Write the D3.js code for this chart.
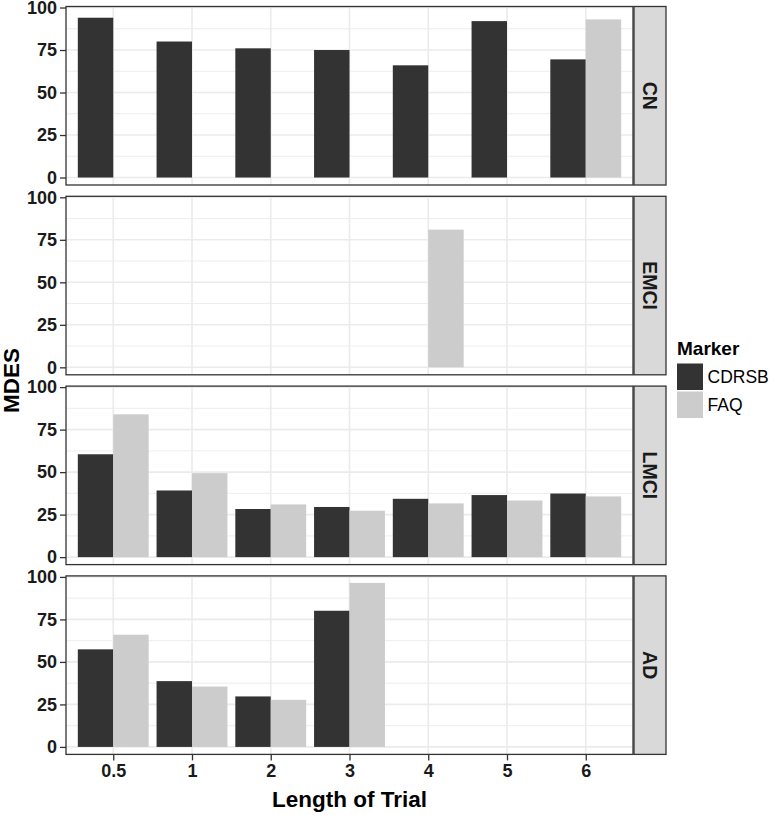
<!DOCTYPE html>
<html>
<head>
<meta charset="utf-8">
<script src="https://cdn.jsdelivr.net/npm/d3@7"></script>
<style>
  html, body { margin: 0; padding: 0; background: #fff; }
  svg { display: block; font-family: "Liberation Sans", Arial, Helvetica, sans-serif; }
</style>
</head>
<body>
<svg id="chart" width="775" height="815"></svg>
<script>
// ---- data ----
const categories = ["0.5", "1", "2", "3", "4", "5", "6"];
const facets = ["CN", "EMCI", "LMCI", "AD"];
const markers = ["CDRSB", "FAQ"];
const yTicks = [0, 25, 50, 75, 100];
const yMinorTicks = [12.5, 37.5, 62.5, 87.5];

const CN_CDRSB   = [94, 80, 76, 75, 66, 92, 69.5];
const CN_FAQ     = [null, null, null, null, null, null, 93];
const EMCI_CDRSB = [null, null, null, null, null, null, null];
const EMCI_FAQ   = [null, null, null, null, 81, null, null];
const LMCI_CDRSB = [60.5, 39.2, 28.3, 29.5, 34.3, 36.5, 37.4];
const LMCI_FAQ   = [84, 49.4, 31, 27.3, 31.6, 33.3, 35.7];
const AD_CDRSB   = [57.4, 38.7, 29.7, 80.1, null, null, null];
const AD_FAQ     = [66, 35.5, 27.7, 96.5, null, null, null];

const seriesByFacet = {
  CN:   { CDRSB: CN_CDRSB,   FAQ: CN_FAQ },
  EMCI: { CDRSB: EMCI_CDRSB, FAQ: EMCI_FAQ },
  LMCI: { CDRSB: LMCI_CDRSB, FAQ: LMCI_FAQ },
  AD:   { CDRSB: AD_CDRSB,   FAQ: AD_FAQ }
};

// ---- layout ----
const svg = d3.select("#chart");
const panelLeft = 66, panelRight = 633;
const panelTop0 = 6.5, panelH = 178.5, panelStep = 189.8;
const stripW = 32;
const colors = d3.scaleOrdinal().domain(markers).range(["#333333", "#cccccc"]);
const borderCol = "#333333";
const gridCol = "#ebebeb";

const x = d3.scalePoint().domain(categories).range([panelLeft, panelRight]).padding(0.6);
const step = x.step();
const xSub = d3.scaleBand().domain(markers).range([-0.45 * step, 0.45 * step]).padding(0);

facets.forEach((facet, i) => {
  const top = panelTop0 + i * panelStep;
  const y = d3.scaleLinear().domain([-4.4, 100.6]).range([top + panelH, top]);
  const g = svg.append("g");

  g.append("rect").attr("x", panelLeft).attr("y", top)
    .attr("width", panelRight - panelLeft).attr("height", panelH).attr("fill", "#fff");

  g.selectAll(".minor").data(yMinorTicks).enter().append("line")
    .attr("x1", panelLeft).attr("x2", panelRight)
    .attr("y1", d => y(d)).attr("y2", d => y(d))
    .attr("stroke", gridCol).attr("stroke-width", 0.9);
  g.selectAll(".majorY").data(yTicks).enter().append("line")
    .attr("x1", panelLeft).attr("x2", panelRight)
    .attr("y1", d => y(d)).attr("y2", d => y(d))
    .attr("stroke", gridCol).attr("stroke-width", 1.6);
  g.selectAll(".majorX").data(categories).enter().append("line")
    .attr("x1", d => x(d)).attr("x2", d => x(d))
    .attr("y1", top).attr("y2", top + panelH)
    .attr("stroke", gridCol).attr("stroke-width", 1.6);

  markers.forEach(m => {
    const vals = seriesByFacet[facet][m];
    const data = categories.map((c, j) => ({ c, v: vals[j] })).filter(d => d.v !== null);
    g.selectAll(".bar-" + m).data(data).enter().append("rect")
      .attr("x", d => x(d.c) + xSub(m))
      .attr("width", xSub.bandwidth())
      .attr("y", d => y(d.v))
      .attr("height", d => y(0) - y(d.v))
      .attr("fill", colors(m));
  });

  g.append("rect").attr("x", panelLeft).attr("y", top)
    .attr("width", panelRight - panelLeft).attr("height", panelH)
    .attr("fill", "none").attr("stroke", borderCol).attr("stroke-width", 1.3);

  const yAxis = d3.axisLeft(y).tickValues(yTicks).tickSize(6).tickPadding(3).tickFormat(d3.format("d"));
  const ya = g.append("g").attr("transform", `translate(${panelLeft},0)`).call(yAxis);
  ya.select(".domain").remove();
  ya.selectAll(".tick line").attr("stroke", borderCol).attr("stroke-width", 1.3);
  ya.selectAll(".tick text").attr("fill", "#1a1a1a").attr("font-size", 18)
    .attr("font-weight", "bold").attr("font-family", "Liberation Sans, Arial, sans-serif");

  g.append("rect").attr("x", panelRight + 1).attr("y", top)
    .attr("width", stripW).attr("height", panelH)
    .attr("fill", "#d9d9d9").attr("stroke", borderCol).attr("stroke-width", 1.3);
  g.append("text")
    .attr("transform", `translate(${panelRight + 1 + stripW / 2},${top + panelH / 2}) rotate(90)`)
    .attr("text-anchor", "middle").attr("dominant-baseline", "central")
    .attr("font-size", 19.5).attr("font-weight", "bold").attr("fill", "#1a1a1a")
    .text(facet);

  if (i === facets.length - 1) {
    const xAxis = d3.axisBottom(x).tickSize(6).tickPadding(4);
    const xa = g.append("g").attr("transform", `translate(0,${top + panelH})`).call(xAxis);
    xa.select(".domain").remove();
    xa.selectAll(".tick line").attr("stroke", borderCol).attr("stroke-width", 1.3);
    xa.selectAll(".tick text").attr("fill", "#1a1a1a").attr("font-size", 18)
      .attr("font-weight", "bold").attr("font-family", "Liberation Sans, Arial, sans-serif");
  }
});

svg.append("text")
  .attr("x", (panelLeft + panelRight) / 2).attr("y", 807)
  .attr("text-anchor", "middle").attr("font-size", 22.5).attr("font-weight", "bold")
  .attr("fill", "#000").text("Length of Trial");
svg.append("text")
  .attr("transform", `translate(18.5,${panelTop0 + (3 * panelStep + panelH) / 2}) rotate(-90)`)
  .attr("text-anchor", "middle").attr("font-size", 22.5).attr("font-weight", "bold")
  .attr("fill", "#000").text("MDES");

const lg = svg.append("g").attr("transform", "translate(677,355)");
lg.append("text").attr("x", 0).attr("y", 0).attr("font-size", 19).attr("font-weight", "bold")
  .attr("fill", "#000").text("Marker");
markers.forEach((m, k) => {
  const ky = 8.5 + k * 28;
  lg.append("rect").attr("x", 0).attr("y", ky).attr("width", 26).attr("height", 26.5)
    .attr("fill", colors(m));
  lg.append("text").attr("x", 30.5).attr("y", ky + 13.5).attr("dominant-baseline", "central")
    .attr("font-size", 17.5).attr("fill", "#000").text(m);
});
</script>
</body>
</html>
